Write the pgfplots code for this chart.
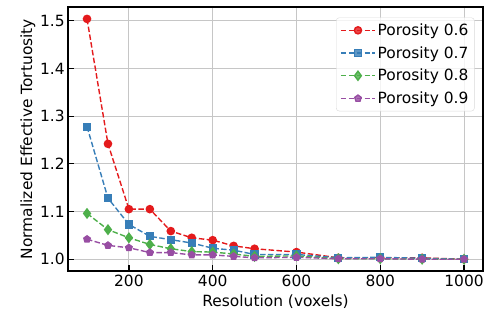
\documentclass[border={17pt 3pt 3pt 6pt}]{standalone}
\usepackage{pgfplots}
\pgfplotsset{compat=1.18}
\usepackage{fontspec}
\setmainfont{DejaVu Sans}
\usetikzlibrary{plotmarks}
\definecolor{c1}{HTML}{E41A1C}
\definecolor{c2}{HTML}{377EB8}
\definecolor{c3}{HTML}{4DAF4A}
\definecolor{c4}{HTML}{984EA3}
\newcommand{\ff}{\fontsize{15.5pt}{18pt}\selectfont}
\begin{document}
\begin{tikzpicture}[font=\ff]
\begin{axis}[
  scale only axis, width=416pt, height=265pt,
  xmin=55, xmax=1045, ymin=0.975, ymax=1.529,
  xtick={200,400,600,800,1000},
  ytick={1.0,1.1,1.2,1.3,1.4,1.5},
  yticklabel style={/pgf/number format/.cd,fixed,fixed zerofill,precision=1},
  xticklabel style={/pgf/number format/1000 sep={}},
  /pgf/number format/assume math mode=true,
  every tick label/.append style={font=\ff},
  label style={font=\ff},
  xlabel style={yshift=-2pt},
  ylabel style={yshift=-2pt},
  tick align=inside, tick pos=left,
  major tick length=6pt,
  tick style={black, line width=1.2pt},
  axis line style={line width=2pt},
  grid=major, grid style={gray!45, line width=0.9pt},
  xlabel={Resolution (voxels)},
  ylabel={Normalized Effective Tortuosity},
  legend pos=north east,
  legend cell align=left,
  legend style={draw=gray!30, rounded corners=3pt, fill=white, fill opacity=0.8, text opacity=1, font=\ff, row sep=5.5pt, inner sep=4pt, at={(0.98,0.96)}},
  legend image code/.code={\draw[#1] (0cm,0cm) -- (1.2cm,0cm); \draw[#1, only marks] plot coordinates {(0.6cm,0cm)};},
  every axis plot/.append style={dash pattern=on 5.5pt off 2.4pt, line width=1.4pt, mark options={solid}},
]
\addplot[c1, mark=*, mark size=3.6pt] coordinates {
(100,1.504)(150,1.242)(200,1.105)(250,1.105)(300,1.059)(350,1.045)(400,1.040)(450,1.028)(500,1.022)(600,1.015)(700,1.003)(800,1.003)(900,1.003)(1000,1.000)};
\addlegendentry{Porosity 0.6}
\addplot[c2, mark=square*, mark size=3.4pt] coordinates {
(100,1.278)(150,1.128)(200,1.073)(250,1.048)(300,1.041)(350,1.034)(400,1.023)(450,1.019)(500,1.010)(600,1.010)(700,1.003)(800,1.004)(900,1.002)(1000,1.000)};
\addlegendentry{Porosity 0.7}
\addplot[c3, mark=diamond*, mark size=4.5pt] coordinates {
(100,1.096)(150,1.062)(200,1.045)(250,1.031)(300,1.022)(350,1.016)(400,1.015)(450,1.011)(500,1.006)(600,1.007)(700,1.001)(800,1.001)(900,1.000)(1000,1.000)};
\addlegendentry{Porosity 0.8}
\addplot[c4, mark=pentagon*, mark size=3.4pt] coordinates {
(100,1.042)(150,1.029)(200,1.024)(250,1.014)(300,1.014)(350,1.009)(400,1.009)(450,1.006)(500,1.003)(600,1.004)(700,1.001)(800,1.001)(900,1.000)(1000,1.000)};
\addlegendentry{Porosity 0.9}
\end{axis}
\end{tikzpicture}
\end{document}
